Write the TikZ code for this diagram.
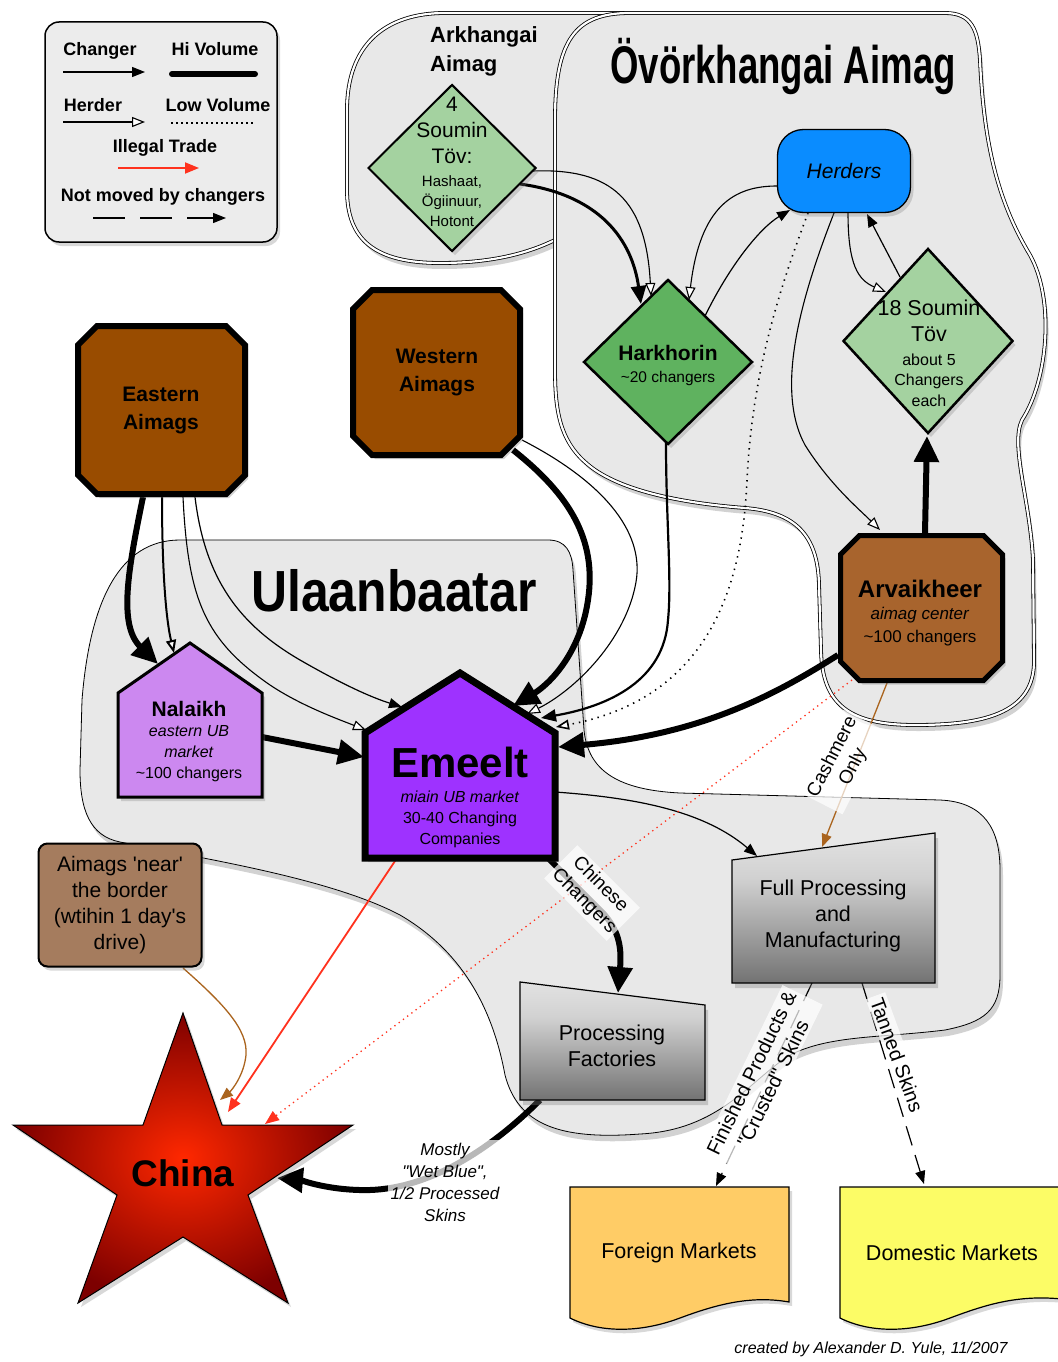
\documentclass[tikz,border=0pt]{standalone}
\usepackage{fontspec}
\usepackage{graphicx}
\setmainfont{Liberation Sans}
\usetikzlibrary{arrows.meta,shapes.geometric,shapes.misc,shadows}
\pgfdeclarelayer{bg}
\pgfdeclarelayer{edges}
\pgfdeclarelayer{shp}
\pgfsetlayers{bg,edges,shp,main}
\newcommand{\fsz}[2]{\fontsize{#1}{#2}\selectfont}
\newcommand{\chamfpath}[5]{({#1+#5},#2) -- ({#3-#5},#2) -- (#3,{#2+#5}) -- (#3,{#4-#5}) -- ({#3-#5},#4) -- ({#1+#5},#4) -- (#1,{#4-#5}) -- (#1,{#2+#5}) -- cycle}
\definecolor{aimagbrown}{RGB}{153,76,0}
\definecolor{arvbrown}{RGB}{168,100,45}
\definecolor{lightgreen}{RGB}{164,210,160}
\definecolor{midgreen}{RGB}{95,178,95}
\definecolor{herderblue}{RGB}{10,140,255}
\definecolor{nalpurple}{RGB}{204,136,240}
\definecolor{emepurple}{RGB}{158,50,255}
\definecolor{nearbrown}{RGB}{165,124,94}
\definecolor{foreignc}{RGB}{255,204,102}
\definecolor{domesticc}{RGB}{252,252,102}
\definecolor{regiongray}{RGB}{232,232,232}
\definecolor{legendgray}{RGB}{236,236,236}
\definecolor{cashbrown}{RGB}{170,100,30}
\definecolor{illegalred}{RGB}{255,50,30}
\definecolor{chinain}{RGB}{255,40,0}
\definecolor{chinaout}{RGB}{125,0,0}
\pgfdeclareverticalshading{procshade}{100bp}{color(0bp)=(black!78); color(25bp)=(black!55); color(60bp)=(black!18); color(100bp)=(white)}
\tikzset{
  shd/.style={drop shadow={opacity=0.3,shadow xshift=3pt,shadow yshift=-4pt}},
  chg/.style={line width=1.2pt, -{Triangle[length=13pt,width=10pt]}},
  hrd/.style={line width=1.1pt, -{Triangle[length=13pt,width=10pt,fill=white]}},
  hichg/.style={line width=6pt, -{Triangle[length=26pt,width=24pt]}},
  midchg/.style={line width=3pt, -{Triangle[length=18pt,width=15pt]}},
  lowvol/.style={line width=1.6pt, dash pattern=on 1.4pt off 5pt},
  illegal/.style={draw=illegalred, line width=1.8pt, -{Triangle[length=14pt,width=11pt]}},
  cash/.style={draw=cashbrown, line width=1.3pt, -{Triangle[length=13pt,width=10pt]}},
  notmoved/.style={line width=1.2pt, dash pattern=on 20pt off 10pt, -{Triangle[length=13pt,width=10pt]}},
  region/.style={fill=regiongray, draw=black, line width=0.8pt, drop shadow={opacity=0.35,shadow xshift=3pt,shadow yshift=-6pt}},
  dregion/.style={region, double=white, double distance=2.2pt},
  diam/.style={diamond, draw=black, line width=2pt, minimum width=168pt, minimum height=168pt, inner sep=0pt, shd},
  aimagshape/.style={draw=black, line width=6pt, fill=aimagbrown, line join=miter, drop shadow={opacity=0.35,shadow xshift=3pt,shadow yshift=-4pt}},
  aimagtext/.style={inner sep=0pt, align=center, font=\bfseries\fsz{21}{28}},
  txt/.style={align=center, inner sep=0pt},
  lbl/.style={fill=white, fill opacity=0.72, text opacity=1, inner sep=3pt, align=center},
  lgtext/.style={inner sep=0pt, font=\bfseries\fsz{18}{20}},
}
\begin{document}
\begin{tikzpicture}[x=1pt,y=-1pt]
\useasboundingbox (0,0) rectangle (1057,1362);

% ---------- nodes ----------
\node[draw, line width=1.5pt, fill=legendgray, rounded corners=14pt, minimum width=232pt, minimum height=220pt, shd] (legend) at (161,132) {};
\node[lgtext] (lgchg) at (100,51) {Changer};
\node[lgtext] (lghi) at (215,49) {Hi Volume};
\node[lgtext] (lghrd) at (93,105) {Herder};
\node[lgtext] (lglow) at (218,105) {Low Volume};
\node[lgtext] (lgill) at (165,148) {Illegal Trade};
\node[lgtext] (lgnm) at (163,197) {Not moved by changers};
\coordinate (lg1a) at (63,72); \coordinate (lg1b) at (145,72);
\coordinate (lg2a) at (172,74); \coordinate (lg2b) at (255,74);
\coordinate (lg3a) at (63,122); \coordinate (lg3b) at (145,122);
\coordinate (lg4a) at (171,123); \coordinate (lg4b) at (255,123);
\coordinate (lg5a) at (118,168); \coordinate (lg5b) at (199,168);
\coordinate (lg6a) at (93,218); \coordinate (lg6b) at (226,218);
\draw[chg] (lg1a) -- (lg1b);
\draw[line width=6pt, line cap=round] (lg2a) -- (lg2b);
\draw[hrd] (lg3a) -- (lg3b);
\draw[line width=1.3pt, dash pattern=on 1.5pt off 3.5pt] (lg4a) -- (lg4b);
\draw[illegal] (lg5a) -- (lg5b);
\draw[notmoved, dash pattern=on 32pt off 15pt] (lg6a) -- (lg6b);

\node[anchor=west, align=left, inner sep=0pt, font=\bfseries\fsz{22}{29}] (arkl) at (430,51) {Arkhangai\\Aimag};
\node[inner sep=0pt, font=\bfseries\fsz{53}{55}] (ovorl) at (783,66) {\scalebox{0.69}[1]{Övörkhangai Aimag}};
\node[inner sep=0pt, font=\bfseries\fsz{58}{60}] (ubl) at (394,591) {\scalebox{0.86}[1]{Ulaanbaatar}};

\node[diam, fill=lightgreen, minimum height=167pt] (soum4) at (452,168) {};
\node[txt, font=\fsz{21}{26}] (soum4t) at (452,130) {4\\Soumin\\Töv:};
\node[txt, font=\fsz{15}{20}] (soum4s) at (452,201) {Hashaat,\\Ögiinuur,\\Hotont};

\node[diam, fill=midgreen, line width=2.5pt, minimum width=169pt, minimum height=165pt] (hark) at (668,362) {};
\node[txt, font=\bfseries\fsz{21}{25}] (harkt) at (668,353) {Harkhorin};
\node[txt, font=\fsz{15.5}{18}] (harks) at (668,378) {\textasciitilde 20 changers};

\node[diam, fill=lightgreen, line width=2.5pt, minimum width=170pt, minimum height=185pt] (soum18) at (928,341) {};
\node[txt, font=\fsz{21.5}{26}] (soum18t) at (929,321) {18 Soumin\\Töv};
\node[txt, font=\fsz{16}{20.5}] (soum18s) at (929,380) {about 5\\Changers\\each};

\node[draw, line width=1.3pt, fill=herderblue, rounded corners=26pt, minimum width=133pt, minimum height=83pt, font=\itshape\fsz{21}{24}, shd] (herders) at (844,171) {Herders};

\node[aimagtext, minimum width=173pt, minimum height=174pt] (eastern) at (161,410) {Eastern\\Aimags};
\node[aimagtext, minimum width=173pt, minimum height=171pt] (western) at (437,372) {Western\\Aimags};
\node[inner sep=0pt, minimum width=167pt, minimum height=150pt] (arv) at (921,608) {};
\node[txt, font=\bfseries\fsz{24}{28}] (arvt) at (920,589) {Arvaikheer};
\node[txt, font=\fsz{17}{23}] (arvs) at (920,627) {\textit{aimag center}\\\textasciitilde 100 changers};

\node[inner sep=0pt, minimum width=144pt, minimum height=104pt] (nalaikh) at (190,745) {};
\node[txt, font=\bfseries\fsz{21}{25}] (nalaikht) at (189,709) {Nalaikh};
\node[txt, font=\fsz{16}{21}] (nalaikhs) at (189,754) {\textit{eastern UB}\\\textit{market}\\\textasciitilde 100 changers};

\node[inner sep=0pt, minimum width=190pt, minimum height=125pt] (emeelt) at (460,795.5) {};
\node[txt, font=\bfseries\fsz{42}{46}] (emeeltt) at (460,762) {Emeelt};
\node[txt, font=\fsz{16}{21}] (emeelts) at (460,819) {\textit{miain UB market}\\30-40 Changing\\Companies};

\node[draw, line width=2pt, fill=nearbrown, rounded corners=9pt, minimum width=163pt, minimum height=123pt, align=center, font=\fsz{21}{26}, shd] (near) at (120,905) {Aimags \textquotesingle near\textquotesingle\\the border\\(wtihin 1 day\textquotesingle s\\drive)};

\node[txt, font=\bfseries\fsz{37}{40}] (china) at (183,1173) {China};
\node[txt, font=\fsz{21.5}{26}] (procfact) at (612,1046) {Processing\\Factories};
\node[txt, font=\fsz{21.5}{26}] (fullproc) at (833,916) {Full Processing\\and\\Manufacturing};
\node[txt, font=\fsz{21.5}{26}] (foreign) at (679,1253) {Foreign Markets};
\node[txt, font=\fsz{21.5}{26}] (domestic) at (952,1253) {Domestic Markets};

\node[inner sep=0pt, font=\itshape\fsz{16}{18}] (credit) at (871,1349) {created by Alexander D. Yule, 11/2007};

% ---------- custom shapes ----------
\begin{pgfonlayer}{shp}
\path[aimagshape] \chamfpath{78}{326}{245}{494}{19};
\path[aimagshape] \chamfpath{353}{290}{520}{455}{19};
\path[aimagshape, line width=5pt, fill=arvbrown] \chamfpath{840.5}{535.5}{1002.5}{680.5}{19};
\path[draw, line width=3pt, fill=nalpurple, line join=miter, shd] (118,797) -- (118,693) -- (190,643) -- (262,693) -- (262,797) -- cycle;
\path[draw, line width=7pt, fill=emepurple, line join=miter, shd] (365,858) -- (365,733) -- (460,673) -- (555,733) -- (555,858) -- cycle;
\path[draw, line width=1pt, inner color=chinain, outer color=chinaout, shd] (183,1013) -- (222,1125) -- (353,1125) -- (248,1195) -- (288,1303) -- (183,1237) -- (78,1303) -- (117,1195) -- (13,1125) -- (143,1125) -- cycle;
\path[draw, line width=1.2pt, shading=procshade, drop shadow={opacity=0.35,shadow xshift=3pt,shadow yshift=-5pt}] (520,982) -- (705,1005) -- (705,1100) -- (520,1100) -- cycle;
\path[draw, line width=1.2pt, shading=procshade, drop shadow={opacity=0.35,shadow xshift=3pt,shadow yshift=-5pt}] (732,860) -- (935,833) -- (935,983) -- (732,983) -- cycle;
\path[draw, line width=1.2pt, fill=foreignc, shd] (570,1187) -- (789,1187) -- (789,1302) .. controls (750,1295) and (715,1305) .. (680,1318) .. controls (640,1333) and (600,1333) .. (570,1318) -- cycle;
\path[draw, line width=1.2pt, fill=domesticc, shd] (840,1187) -- (1070,1187) -- (1070,1300) .. controls (1020,1293) and (985,1305) .. (950,1318) .. controls (910,1333) and (870,1333) .. (840,1318) -- cycle;
\end{pgfonlayer}

% ---------- regions ----------
\begin{pgfonlayer}{bg}
\fill[white] (0,0) rectangle (1057,1362);
\path[dregion] (445,13) .. controls (385,13) and (347,45) .. (347,110) -- (347,190) .. controls (347,240) and (375,263) .. (440,263) .. controls (500,263) and (545,250) .. (580,225) -- (660,150) -- (660,13) -- cycle;
\path[dregion] (630,13) -- (945,13) .. controls (972,13) and (978,30) .. (980,60) .. controls (984,150) and (1000,205) .. (1030,255) .. controls (1055,300) and (1048,380) .. (1022,420) .. controls (1010,445) and (1030,500) .. (1033,560) -- (1034,660) .. controls (1035,715) and (980,725) .. (915,725) .. controls (850,725) and (822,705) .. (821,650) -- (819,585) .. controls (818,535) and (795,512) .. (745,508) .. controls (680,503) and (615,490) .. (585,462) .. controls (560,440) and (555,410) .. (555,370) -- (555,120) .. controls (555,40) and (575,13) .. (630,13) -- cycle;
\path[region] (180,540) -- (548,540) .. controls (566,540) and (572,552) .. (573,570) -- (584,730) .. controls (588,772) and (620,790) .. (680,793) -- (940,800) .. controls (985,802) and (1000,830) .. (1000,870) -- (1000,975) .. controls (1000,1010) and (985,1022) .. (945,1030) .. controls (880,1038) and (830,1035) .. (790,1055) .. controls (750,1080) and (720,1130) .. (640,1134) .. controls (560,1140) and (518,1125) .. (505,1075) .. controls (492,1005) and (460,950) .. (400,915) .. controls (330,878) and (200,858) .. (120,842) .. controls (90,836) and (80,810) .. (80,770) -- (82,700) .. controls (90,600) and (120,540) .. (180,540) -- cycle;
\end{pgfonlayer}

% ---------- connectors ----------
\begin{pgfonlayer}{edges}
\draw[midchg] ([shift={(68,16)}]soum4.center) .. controls (600,195) and (632,240) .. ([shift={(-27,-58)}]hark.center);
\draw[hrd] ([shift={(81,3)}]soum4.center) .. controls (612,168) and (646,200) .. ([shift={(-17,-66)}]hark.center);
\draw[hrd] ([shift={(-67,15)}]herders.center) .. controls (735,186) and (700,205) .. ([shift={(21,-62)}]hark.center);
\draw[chg] ([shift={(37,-46)}]hark.center) .. controls (730,265) and (760,228) .. ([shift={(-54,39)}]herders.center);
\draw[hrd] ([shift={(4,42)}]herders.center) .. controls (848,265) and (858,280) .. ([shift={(-42,-49)}]soum18.center);
\draw[chg] ([shift={(-28,-64)}]soum18.center) -- ([shift={(23,43)}]herders.center);
\draw[hichg] ([shift={(4,-75)}]arv.center) -- ([shift={(-1,95)}]soum18.center);
\draw[hrd] ([shift={(-10,42)}]herders.center) .. controls (800,300) and (775,390) .. (805,445) .. controls (830,485) and (860,510) .. ([shift={(-41,-78)}]arv.center);
\draw[hrd, lowvol] ([shift={(-36,42)}]herders.center) .. controls (775,300) and (752,380) .. (747,480) .. controls (742,600) and (700,700) .. ([shift={(96,-68.5)}]emeelt.center);
\draw[line width=2.2pt, -{Triangle[length=15pt,width=12pt]}] ([shift={(-2,81)}]hark.center) .. controls (666,520) and (672,580) .. (668,620) .. controls (664,680) and (610,706) .. ([shift={(81,-77.5)}]emeelt.center);
\draw[hichg] ([shift={(76,78)}]western.center) .. controls (570,495) and (597,540) .. (588,600) .. controls (580,655) and (548,685) .. ([shift={(53,-89.5)}]emeelt.center);
\draw[hrd] ([shift={(85,68)}]western.center) .. controls (600,480) and (645,530) .. (636,582) .. controls (626,640) and (575,690) .. ([shift={(67,-81.5)}]emeelt.center);
\draw[hichg] ([shift={(-18,87)}]eastern.center) .. controls (128,570) and (118,625) .. ([shift={(-32,-81)}]nalaikh.center);
\draw[hrd, line width=2pt] ([shift={(1,87)}]eastern.center) .. controls (162,560) and (165,615) .. ([shift={(-16,-92)}]nalaikh.center);
\draw[hrd] ([shift={(22,87)}]eastern.center) .. controls (188,600) and (205,640) .. (270,685) .. controls (300,705) and (335,718) .. ([shift={(-94,-65.5)}]emeelt.center);
\draw[chg] ([shift={(34,87)}]eastern.center) .. controls (205,580) and (240,625) .. (300,660) .. controls (340,683) and (370,697) .. ([shift={(-58,-88.5)}]emeelt.center);
\draw[hichg] ([shift={(72,-8)}]nalaikh.center) -- ([shift={(-96,-38.5)}]emeelt.center);
\draw[hichg] ([shift={(-83,47)}]arv.center) .. controls (775,695) and (700,735) .. ([shift={(98,-48.5)}]emeelt.center);
\draw[chg] ([shift={(95,-3.5)}]emeelt.center) .. controls (640,798) and (705,812) .. ([shift={(-76,-60)}]fullproc.center);
\draw[hichg] ([shift={(88,62.5)}]emeelt.center) -- (603,913) .. controls (618,930) and (622,945) .. ([shift={(6,-53)}]procfact.center);
\draw[illegal] ([shift={(-63,62.5)}]emeelt.center) -- ([shift={(45,-61)}]china.center);
\draw[illegal, line width=1.3pt, dash pattern=on 1.3pt off 4pt] ([shift={(-69,72)}]arv.center) -- ([shift={(82,-49)}]china.center);
\draw[cash] ([shift={(-34,75)}]arv.center) -- ([shift={(-11,-69)}]fullproc.center);
\draw[cash] ([shift={(63,63)}]near.center) .. controls (225,1005) and (248,1030) .. (246,1055) .. controls (244,1075) and (232,1090) .. ([shift={(37,-73)}]china.center);
\draw[hichg] ([shift={(-72,54)}]procfact.center) .. controls (490,1150) and (430,1188) .. (370,1190) .. controls (330,1191) and (300,1180) .. ([shift={(94,5)}]china.center);
\draw[notmoved] ([shift={(-21,67)}]fullproc.center) -- ([shift={(37,-67)}]foreign.center);
\draw[notmoved] ([shift={(29,67)}]fullproc.center) -- ([shift={(-28,-69)}]domestic.center);
\end{pgfonlayer}

% ---------- connector labels ----------
\node[lbl, rotate=-45, font=\fsz{19}{23}] (lblchin) at (592,893) {Chinese\\Changers};
\node[lbl, rotate=63, font=\fsz{19}{23}] (lblcash) at (843,762) {Cashmere\\Only};
\node[lbl, rotate=64, font=\fsz{20}{24}] (lblfin) at (762,1078) {Finished Products \&\\\textquotedbl Crusted\textquotedbl\ Skins};
\node[lbl, rotate=-70, font=\fsz{20}{22}] (lbltan) at (897,1055) {Tanned Skins};
\node[lbl, font=\itshape\fsz{17}{22}] (lblwet) at (445,1182) {Mostly\\\textquotedbl Wet Blue\textquotedbl,\\1/2 Processed\\Skins};
\end{tikzpicture}
\end{document}
